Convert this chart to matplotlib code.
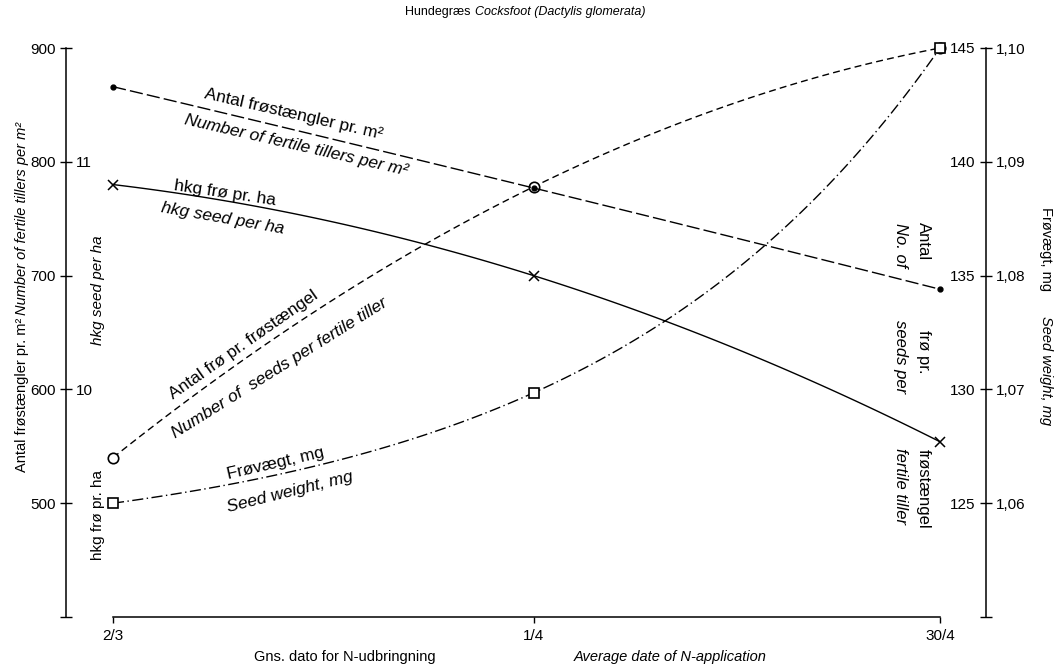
import numpy as np
import matplotlib.pyplot as plt

plt.rcParams['font.family'] = ['Liberation Sans', 'DejaVu Sans']

# ---- data ----
dates = ['2/3', '1/4', '30/4']
day_of_year = [61, 91, 120]
tillers_per_m2 = [866, 777, 688]       # Antal frøstængler pr. m²
hkg_seed_per_ha = [10.9, 10.5, 9.77]    # hkg frø pr. ha
seeds_per_tiller = [127.0, 138.9, 145.0]  # Antal frø pr. frøstængel
seed_weight_mg = [1.060, 1.0697, 1.100]  # Frøvægt, mg

W, H = 1058, 672
FS = 12.5


def curve(ax, x, y, **kw):
    # smooth line drawn through the three measured points
    c = np.polyfit(x, y, 2)
    xs = np.linspace(x[0], x[-1], 120)
    ax.plot(xs, np.polyval(c, xs), color='black', lw=1.0, clip_on=False, **kw)


def exp_curve(ax, x, y, **kw):
    # y = y0 + A*(exp(k*(x-x0)) - 1) through the three points (accelerating rise)
    x = np.asarray(x, float)
    y = np.asarray(y, float)
    t1, t2 = x[1] - x[0], x[2] - x[0]
    r = t2 / t1
    q = (y[1] - y[0]) / (y[2] - y[0])
    lo, hi = 1.0001, 100.0
    for _ in range(80):
        u = (lo + hi) / 2
        if (u - 1) / (u ** r - 1) > q:
            lo = u
        else:
            hi = u
    k = np.log(u) / t1
    A = (y[1] - y[0]) / (u - 1)
    xs = np.linspace(x[0], x[-1], 120)
    ax.plot(xs, y[0] + A * (np.exp(k * (xs - x[0])) - 1), color='black', lw=1.0,
            clip_on=False, **kw)


def hide(a):
    for s in a.spines.values():
        s.set_visible(False)


fig = plt.figure(figsize=(W / 100, H / 100), dpi=100)
left_px, right_px, top_px, bottom_px = 66, 986, 48, 617
ax = fig.add_axes([left_px / W, 1 - bottom_px / H,
                   (right_px - left_px) / W, (bottom_px - top_px) / H])

# first and last dates sit at 113 px and 940 px
ppd = (940 - 113) / (day_of_year[-1] - day_of_year[0])
ax.set_xlim(day_of_year[0] - (113 - left_px) / ppd,
            day_of_year[-1] + (right_px - 940) / ppd)
ax.set_ylim(400, 900)

ax.spines[['top', 'right']].set_visible(False)
ax.spines['bottom'].set_bounds(day_of_year[0], day_of_year[-1])
for s in ('left', 'bottom'):
    ax.spines[s].set_linewidth(1.1)
ax.set_xticks(day_of_year, dates)
ax.tick_params(axis='x', direction='out', length=4, width=1, pad=5, labelsize=11)
ax.set_yticks([400, 500, 600, 700, 800, 900], ['', '500', '600', '700', '800', '900'])
ax.tick_params(axis='y', direction='inout', length=9, width=1, pad=3, labelsize=11)

# hkg per ha: labels just inside the left axis
ax_hkg = ax.twinx()
hide(ax_hkg)
ax_hkg.set_ylim(9, 11.5)
ax_hkg.spines['right'].set_position(('axes', 0))
ax_hkg.set_yticks([10, 11], ['10', '11'])
ax_hkg.tick_params(axis='y', length=0, pad=7, labelsize=11)

# seeds per tiller: labels to the left of the right axis
ax_spt = ax.twinx()
hide(ax_spt)
ax_spt.set_ylim(120, 145)
ax_spt.yaxis.tick_left()
ax_spt.spines['left'].set_position(('axes', 1))
ax_spt.set_yticks([120, 125, 130, 135, 140, 145], ['', '125', '130', '135', '140', '145'])
ax_spt.tick_params(axis='y', direction='inout', length=9, width=1, pad=3, labelsize=11)

# seed weight: right axis
ax_sw = ax.twinx()
hide(ax_sw)
ax_sw.spines['right'].set_visible(True)
ax_sw.spines['right'].set_linewidth(1.1)
ax_sw.set_ylim(1.05, 1.10)
ax_sw.set_yticks([1.05, 1.06, 1.07, 1.08, 1.09, 1.10], ['', '1,06', '1,07', '1,08', '1,09', '1,10'])
ax_sw.tick_params(axis='y', length=0, pad=7, labelsize=11)

# tillers on top so the dot shows inside the circle at 1/4
ax.set_zorder(5)
ax.patch.set_visible(False)

curve(ax_hkg, day_of_year, hkg_seed_per_ha, ls='-')
ax_hkg.plot(day_of_year, hkg_seed_per_ha, 'x', color='black', ms=7, mew=1.1, clip_on=False)

curve(ax_spt, day_of_year, seeds_per_tiller, ls=(0, (5, 3)))
ax_spt.plot(day_of_year, seeds_per_tiller, 'o', color='black', mfc='white', ms=7.5, mew=1.2,
            clip_on=False)

exp_curve(ax_sw, day_of_year, seed_weight_mg, ls=(0, (8, 2.5, 1, 2.5)))
ax_sw.plot(day_of_year, seed_weight_mg, 's', color='black', mfc='white', ms=7, mew=1.2,
           clip_on=False)

curve(ax, day_of_year, tillers_per_m2, ls=(0, (9.5, 3)))
ax.plot(day_of_year, tillers_per_m2, 'o', color='black', ms=3.5, clip_on=False)

# labels along the lines
line_labels = [
    ('Antal frøstængler pr. m²', 73.9, 842, -13, 'normal'),
    ('Number of fertile tillers per m²', 74.1, 814, -13, 'italic'),
    ('hkg frø pr. ha', 69.0, 772, -8.5, 'normal'),
    ('hkg seed per ha', 68.8, 750, -10, 'italic'),
    ('Antal frø pr. frøstængel', 70.3, 639, 35, 'normal'),
    ('Number of  seeds per fertile tiller', 72.9, 619, 32, 'italic'),
    ('Frøvægt, mg', 72.6, 535, 13, 'normal'),
    ('Seed weight, mg', 73.6, 510, 14, 'italic'),
]
for txt, xx, yy, rot, st in line_labels:
    ax.text(xx, yy, txt, rotation=rot, style=st, fontsize=FS,
            ha='center', va='center', rotation_mode='anchor')

# vertical labels at the right end of the seeds per tiller curve
right_labels = [
    ('Antal', 118.8, 730, 'normal'),
    ('No. of', 117.2, 727, 'italic'),
    ('frø pr.', 118.8, 633, 'normal'),
    ('seeds per', 117.2, 629, 'italic'),
    ('frøstængel', 118.8, 513, 'normal'),
    ('fertile tiller', 117.2, 515, 'italic'),
]
for txt, xx, yy, st in right_labels:
    ax.text(xx, yy, txt, rotation=270, style=st, fontsize=12,
            ha='center', va='center')

# hkg axis titles inside the left axis
ax.text(59.9, 687, 'hkg seed per ha', rotation=90, style='italic', fontsize=11,
        ha='center', va='center')
ax.text(59.9, 490, 'hkg frø pr. ha', rotation=90, fontsize=11,
        ha='center', va='center')

# outer axis titles
fig.text(22 / W, 1 - 395 / H, 'Antal frøstængler pr. m²', rotation=90,
         fontsize=10.5, ha='center', va='center')
fig.text(22 / W, 1 - 218 / H, 'Number of fertile tillers per m²', rotation=90,
         style='italic', fontsize=10.5, ha='center', va='center')
fig.text(1046 / W, 1 - 249 / H, 'Frøvægt, mg', rotation=270,
         fontsize=10.5, ha='center', va='center')
fig.text(1046 / W, 1 - 371 / H, 'Seed weight, mg', rotation=270,
         style='italic', fontsize=10.5, ha='center', va='center')

fig.text(345 / W, 1 - 657 / H, 'Gns. dato for N-udbringning',
         fontsize=10.5, ha='center', va='center')
fig.text(670 / W, 1 - 657 / H, 'Average date of N-application',
         style='italic', fontsize=10.5, ha='center', va='center')

fig.text(470 / W, 1 - 12 / H, 'Hundegræs', fontsize=9, ha='right', va='center')
fig.text(475 / W, 1 - 12 / H, 'Cocksfoot (Dactylis glomerata)', style='italic',
         fontsize=9, ha='left', va='center')

fig.savefig('out.png', dpi=100)
